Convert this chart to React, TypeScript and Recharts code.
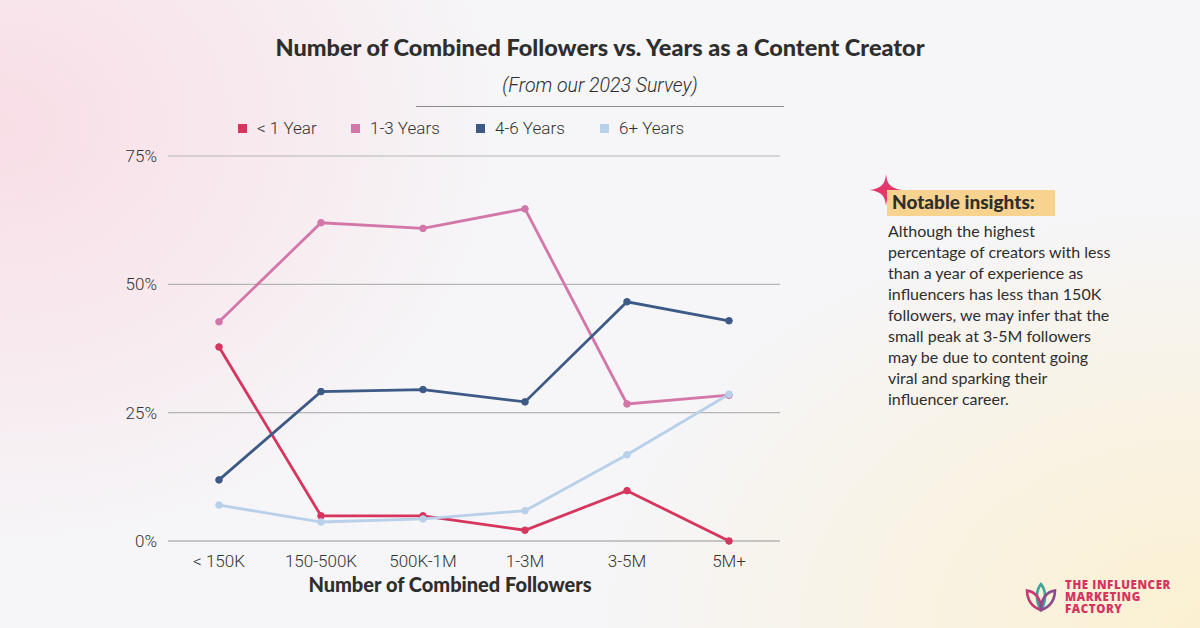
import { LineChart, Line, XAxis, YAxis, CartesianGrid } from 'recharts';

const categories = ['< 150K', '150-500K', '500K-1M', '1-3M', '3-5M', '5M+'];
const lessThan1 = [37.8, 4.9, 4.9, 2.1, 9.8, 0];
const oneToThree = [42.7, 62.0, 60.9, 64.7, 26.7, 28.4];
const fourToSix = [11.9, 29.1, 29.5, 27.1, 46.6, 42.9];
const sixPlus = [7.0, 3.7, 4.3, 5.9, 16.8, 28.6];
const yTicks = [0, 25, 50, 75];

const seriesNames = ['< 1 Year', '1-3 Years', '4-6 Years', '6+ Years'];
const seriesColors = ['#d6365e', '#d377aa', '#3d5a86', '#b8d0ea'];
const seriesKeys = ['lt1', 'y13', 'y46', 'y6'];

const data = categories.map((name, i) => ({
  name,
  lt1: lessThan1[i],
  y13: oneToThree[i],
  y46: fourToSix[i],
  y6: sixPlus[i],
}));

const insightLines = [
  'Although the highest',
  'percentage of creators with less',
  'than a year of experience as',
  'influencers has less than 150K',
  'followers, we may infer that the',
  'small peak at 3-5M followers',
  'may be due to content going',
  'viral and sparking their',
  'influencer career.',
];

const logoLines = ['THE INFLUENCER', 'MARKETING', 'FACTORY'];

export default function App() {
  return (
    <div
      style={{
        position: 'absolute',
        left: 0,
        top: 0,
        width: 1200,
        height: 628,
        overflow: 'hidden',
        background:
          'radial-gradient(ellipse 500px 420px at 0% 20%, rgba(250,214,224,0.75), rgba(250,214,224,0) 100%), radial-gradient(ellipse 600px 420px at 100% 100%, rgba(252,240,205,0.9), rgba(252,240,205,0) 100%), #f6f5f7',
        fontFamily: 'Lato, sans-serif',
        color: '#333',
      }}
    >
      <div style={{ position: 'absolute', left: 0, width: 1200, top: 33, textAlign: 'center', fontSize: 23.5, fontWeight: 900, color: '#2e2e2e', fontFamily: 'Lato, sans-serif' }}>
        Number of Combined Followers vs. Years as a Content Creator
      </div>
      <div style={{ position: 'absolute', left: 0, width: 1200, top: 74, textAlign: 'center', fontSize: 19.5, fontStyle: 'italic', color: '#2e2e2e', fontFamily: 'Roboto, sans-serif', fontWeight: 300 }}>
        (From our 2023 Survey)
      </div>
      <div style={{ position: 'absolute', left: 416, top: 106, width: 368, height: 1, background: '#8a8a8a' }} />

      {seriesNames.map((n, i) => (
        <div key={n} style={{ position: 'absolute', left: [238, 351, 476, 600][i], top: 118, display: 'flex', alignItems: 'center', fontFamily: 'Roboto, sans-serif', fontWeight: 300, fontSize: 17, color: '#333' }}>
          <span style={{ width: 9, height: 9, background: seriesColors[i], marginRight: 10, display: 'inline-block' }} />
          {n}
        </div>
      ))}

      <div style={{ position: 'absolute', left: 0, top: 0 }}>
        <LineChart width={1200} height={628} data={data} margin={{ top: 156, right: 420, bottom: 57, left: 110 }}>
          <CartesianGrid vertical={false} stroke="#b5b5b5" strokeWidth={1.2} />
          <XAxis
            dataKey="name"
            axisLine={{ stroke: '#b5b5b5' }}
            tickLine={false}
            height={30}
            padding={{ left: 51, right: 51 }}
            interval={0}
            tick={{ fill: '#333', fontSize: 17, fontFamily: 'Roboto, sans-serif', fontWeight: 300 }}
            dy={6}
          />
          <YAxis
            domain={[0, 75]}
            ticks={yTicks}
            axisLine={false}
            tickLine={false}
            width={58}
            tickFormatter={(v: number) => `${v}%`}
            tick={{ fill: '#333', fontSize: 17, fontFamily: 'Roboto, sans-serif', fontWeight: 300 }}
            dx={-3}
          />
          {seriesKeys.map((k, i) => (
            <Line
              key={k}
              dataKey={k}
              name={seriesNames[i]}
              stroke={seriesColors[i]}
              strokeWidth={2.8}
              dot={{ r: 3.3, fill: seriesColors[i], stroke: seriesColors[i], strokeWidth: 1 }}
              isAnimationActive={false}
            />
          ))}
        </LineChart>
      </div>

      <div style={{ position: 'absolute', left: 250, width: 400, top: 572, textAlign: 'center', fontSize: 20, fontWeight: 900, color: '#2e2e2e' }}>
        Number of Combined Followers
      </div>

      <svg style={{ position: 'absolute', left: 870, top: 174 }} width={32} height={32} viewBox="0 0 32 32">
        <path d="M16 0 C17 10 20 14 32 16 C20 18 17 22 16 32 C15 22 12 18 0 16 C12 14 15 10 16 0 Z" fill="#e2386a" />
      </svg>
      <div style={{ position: 'absolute', left: 887, top: 190, width: 168, height: 26, background: '#f8d28f' }} />
      <div style={{ position: 'absolute', left: 892, top: 190, fontSize: 19, fontWeight: 900, color: '#2e2e2e' }}>
        Notable insights:
      </div>
      <div style={{ position: 'absolute', left: 888, top: 220, fontSize: 16, lineHeight: '21px', color: '#2e2e2e', whiteSpace: 'nowrap' }}>
        {insightLines.map((l) => (
          <div key={l}>{l}</div>
        ))}
      </div>

      <svg style={{ position: 'absolute', left: 1024, top: 582 }} width={34} height={30} viewBox="0 0 30 28">
        <path d="M15 2 C20 8 20 18 15 26 C10 18 10 8 15 2 Z" fill="none" stroke="#3fa79a" strokeWidth={2.5} />
        <path d="M2 8 C10 9 15 16 15 26 C7 24 2 17 2 8 Z" fill="none" stroke="#c33d74" strokeWidth={2.5} />
        <path d="M28 8 C20 9 15 16 15 26 C23 24 28 17 28 8 Z" fill="none" stroke="#8a4a8c" strokeWidth={2.5} />
      </svg>
      {logoLines.map((l, i) => (
        <div key={l} style={{ position: 'absolute', left: 1065, top: 579 + i * 12, height: 12, fontSize: 11.5, lineHeight: '12px', fontWeight: 800, letterSpacing: 0.6, color: '#d6335f', fontFamily: 'Open Sans, sans-serif', whiteSpace: 'nowrap' }}>
          {l}
        </div>
      ))}
    </div>
  );
}
